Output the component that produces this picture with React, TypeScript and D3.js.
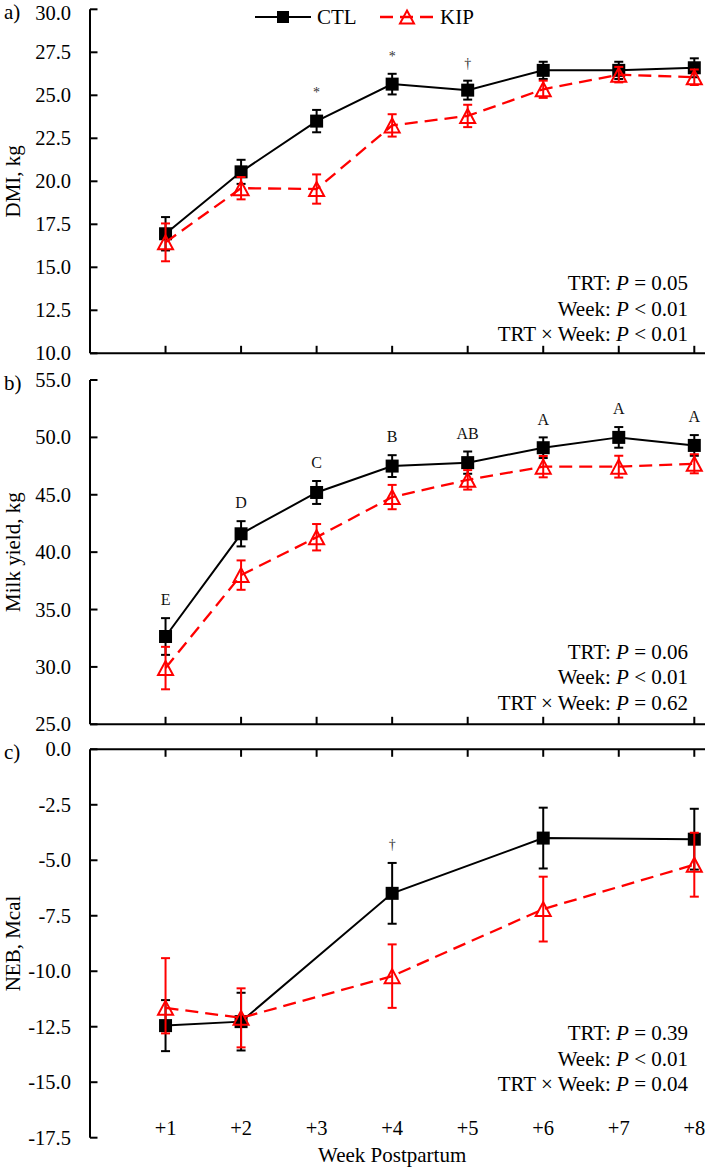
import React, { useEffect, useRef } from 'react';
import * as d3 from 'd3';

// Weeks postpartum
const weeks = [1, 2, 3, 4, 5, 6, 7, 8];
const weekLabels = ['+1', '+2', '+3', '+4', '+5', '+6', '+7', '+8'];
const nebWeeks = [1, 2, 4, 6, 8];

// a) DMI, kg
const dmiCtl = [16.95, 20.55, 23.5, 25.65, 25.3, 26.45, 26.45, 26.6];
const dmiCtlSe = [0.97, 0.7, 0.65, 0.6, 0.55, 0.5, 0.5, 0.55];
const dmiKip = [16.45, 19.6, 19.55, 23.25, 23.8, 25.35, 26.2, 26.05];
const dmiKipSe = [1.1, 0.65, 0.85, 0.65, 0.65, 0.5, 0.45, 0.45];
const dmiMarks = ['', '', '*', '*', '†', '', '', ''];
const dmiStats = ['TRT: |P| = 0.05', 'Week: |P| < 0.01', 'TRT × Week: |P| < 0.01'];

// b) Milk yield, kg
const milkCtl = [32.65, 41.6, 45.2, 47.5, 47.8, 49.1, 50.0, 49.3];
const milkCtlSe = [1.6, 1.1, 1.0, 0.95, 0.97, 0.9, 0.9, 0.9];
const milkKip = [29.9, 38.0, 41.3, 44.8, 46.3, 47.45, 47.45, 47.7];
const milkKipSe = [1.85, 1.28, 1.15, 1.06, 0.85, 0.93, 0.95, 0.83];
const milkLetters = ['E', 'D', 'C', 'B', 'AB', 'A', 'A', 'A'];
const milkStats = ['TRT: |P| = 0.06', 'Week: |P| < 0.01', 'TRT × Week: |P| = 0.62'];

// c) NEB, Mcal
const nebCtl = [-12.45, -12.27, -6.49, -4.0, -4.05];
const nebCtlSe = [1.15, 1.3, 1.37, 1.37, 1.37];
const nebKip = [-11.65, -12.1, -10.22, -7.2, -5.2];
const nebKipSe = [2.24, 1.33, 1.43, 1.46, 1.44];
const nebKipSeLow = [1.15, 1.33, 1.43, 1.46, 1.44];
const nebMarks = ['', '', '†', '', ''];
const nebStats = ['TRT: |P| = 0.39', 'Week: |P| < 0.01', 'TRT × Week: |P| = 0.04'];

const FONT = '"Liberation Serif", "Times New Roman", serif';
const RED = '#ff0000';

const App: React.FC = () => {
  const ref = useRef<SVGSVGElement | null>(null);

  useEffect(() => {
    if (!ref.current) return;
    const svg = d3.select(ref.current);
    svg.selectAll('*').remove();

    const x = d3.scaleLinear().domain([0, 8]).range([90, 694.3]);

    const panels = [
      {
        tag: 'a)', title: 'DMI, kg', domain: [10, 30], range: [353.3, 9.3], step: 2.5,
        axisAt: 10, tickDir: -1, statsY: 283,
        ctl: { xs: weeks, m: dmiCtl, up: dmiCtlSe, lo: dmiCtlSe },
        kip: { xs: weeks, m: dmiKip, up: dmiKipSe, lo: dmiKipSe },
        marks: { xs: weeks, t: dmiMarks, size: 14, off: 13, fill: '#333' },
        stats: dmiStats,
      },
      {
        tag: 'b)', title: 'Milk yield, kg', domain: [25, 55], range: [724.3, 380], step: 5,
        axisAt: 25, tickDir: -1, statsY: 651.5,
        ctl: { xs: weeks, m: milkCtl, up: milkCtlSe, lo: milkCtlSe },
        kip: { xs: weeks, m: milkKip, up: milkKipSe, lo: milkKipSe },
        marks: { xs: weeks, t: milkLetters, size: 16, off: 12.7, fill: '#111' },
        stats: milkStats,
      },
      {
        tag: 'c)', title: 'NEB, Mcal', domain: [-17.5, 0], range: [1137.7, 749.3], step: 2.5,
        axisAt: 0, tickDir: 1, statsY: 1033.3,
        ctl: { xs: nebWeeks, m: nebCtl, up: nebCtlSe, lo: nebCtlSe },
        kip: { xs: nebWeeks, m: nebKip, up: nebKipSe, lo: nebKipSeLow },
        marks: { xs: nebWeeks, t: nebMarks, size: 14, off: 14, fill: '#333' },
        stats: nebStats,
      },
    ];

    const g = svg.append('g').style('font-family', FONT).attr('fill', '#000');

    panels.forEach((p) => {
      const y = d3.scaleLinear().domain(p.domain).range(p.range);
      const [lo, hi] = p.domain;

      // y axis
      g.append('line')
        .attr('x1', 90).attr('x2', 90)
        .attr('y1', y(lo)).attr('y2', y(hi))
        .attr('stroke', '#000').attr('stroke-width', 2);

      const yTicks = d3.range(lo, hi + 0.001, p.step);
      yTicks.forEach((v) => {
        g.append('line')
          .attr('x1', 90).attr('x2', 97.5)
          .attr('y1', y(v)).attr('y2', y(v))
          .attr('stroke', '#000').attr('stroke-width', 2);
        g.append('text')
          .attr('x', 71)
          .attr('y', Math.max(y(v), 13) + 7)
          .attr('text-anchor', 'end')
          .style('font-size', '20.5px')
          .text(v.toFixed(1));
      });

      // x axis
      const ax = y(p.axisAt);
      g.append('line')
        .attr('x1', 90).attr('x2', 705)
        .attr('y1', ax).attr('y2', ax)
        .attr('stroke', '#000').attr('stroke-width', 2);
      weeks.forEach((w) => {
        g.append('line')
          .attr('x1', x(w)).attr('x2', x(w))
          .attr('y1', ax).attr('y2', ax + p.tickDir * 7.5)
          .attr('stroke', '#000').attr('stroke-width', 2);
      });

      // panel tag & title
      g.append('text')
        .attr('x', 4).attr('y', p.range[1] + 10)
        .style('font-size', '21px')
        .text(p.tag);
      const mid = (p.range[0] + p.range[1]) / 2;
      g.append('text')
        .attr('transform', `translate(20,${mid}) rotate(-90)`)
        .attr('text-anchor', 'middle')
        .style('font-size', '21px')
        .text(p.title);

      // series
      const drawSeries = (s: any, kind: 'ctl' | 'kip') => {
        const pts = s.xs.map((w: number, i: number) => ({ w, m: s.m[i], up: s.up[i], lo: s.lo[i] }));
        const line = d3.line<any>().x((d) => x(d.w)).y((d) => y(d.m));
        const col = kind === 'ctl' ? '#000' : RED;
        g.append('path')
          .attr('d', line(pts) as string)
          .attr('fill', 'none')
          .attr('stroke', col)
          .attr('stroke-width', kind === 'ctl' ? 2 : 2.3)
          .attr('stroke-dasharray', kind === 'ctl' ? null : '13,7');
        pts.forEach((d: any) => {
          const cx = x(d.w);
          const t = y(d.m + d.up);
          const b = y(d.m - d.lo);
          g.append('line').attr('x1', cx).attr('x2', cx).attr('y1', t).attr('y2', b)
            .attr('stroke', col).attr('stroke-width', 2);
          [t, b].forEach((yy) => {
            g.append('line').attr('x1', cx - 4.5).attr('x2', cx + 4.5).attr('y1', yy).attr('y2', yy)
              .attr('stroke', col).attr('stroke-width', 2);
          });
        });
        pts.forEach((d: any) => {
          const cx = x(d.w);
          const cy = y(d.m);
          if (kind === 'ctl') {
            g.append('rect').attr('x', cx - 6.5).attr('y', cy - 6.5)
              .attr('width', 13).attr('height', 13).attr('fill', '#000');
          } else {
            g.append('path')
              .attr('d', `M${cx},${cy - 7}L${cx + 7.5},${cy + 7}L${cx - 7.5},${cy + 7}Z`)
              .attr('fill', 'none').attr('stroke', RED).attr('stroke-width', 2);
          }
        });
        return pts;
      };
      const ctlPts = drawSeries(p.ctl, 'ctl');
      drawSeries(p.kip, 'kip');

      // significance marks / letters above CTL error bars
      p.marks.t.forEach((t: string, i: number) => {
        if (!t) return;
        const d = ctlPts[i];
        g.append('text')
          .attr('x', x(d.w)).attr('y', y(d.m + d.up) - p.marks.off)
          .attr('text-anchor', 'middle')
          .attr('fill', p.marks.fill)
          .style('font-size', `${p.marks.size}px`)
          .text(t);
      });

      // statistics
      p.stats.forEach((s: string, i: number) => {
        const parts = s.split('|');
        const txt = g.append('text')
          .attr('x', 688).attr('y', p.statsY + i * 25.5 + 7)
          .attr('text-anchor', 'end')
          .style('font-size', '21px');
        parts.forEach((part, j) => {
          const ts = txt.append('tspan').text(part);
          if (j === 1) ts.style('font-style', 'italic');
        });
      });
    });

    // bottom x labels for panel c
    const yc = d3.scaleLinear().domain([-17.5, 0]).range([1137.7, 749.3]);
    weeks.forEach((w, i) => {
      g.append('text')
        .attr('x', x(w)).attr('y', yc(-17.5) - 2.5)
        .attr('text-anchor', 'middle')
        .style('font-size', '20.5px')
        .text(weekLabels[i]);
    });
    g.append('text')
      .attr('x', (x(0) + x(8)) / 2).attr('y', 1162)
      .attr('text-anchor', 'middle')
      .style('font-size', '21px')
      .text('Week Postpartum');

    // legend
    const ly = 17;
    g.append('line').attr('x1', 255).attr('x2', 311).attr('y1', ly).attr('y2', ly)
      .attr('stroke', '#000').attr('stroke-width', 2);
    g.append('rect').attr('x', 283 - 6).attr('y', ly - 6).attr('width', 12).attr('height', 12).attr('fill', '#000');
    g.append('text').attr('x', 317).attr('y', ly + 7).style('font-size', '21px').text('CTL');
    g.append('line').attr('x1', 380).attr('x2', 433).attr('y1', ly).attr('y2', ly)
      .attr('stroke', RED).attr('stroke-width', 2.3).attr('stroke-dasharray', '13,7');
    g.append('path')
      .attr('d', `M407,${ly - 6.5}L414,${ly + 6.5}L400,${ly + 6.5}Z`)
      .attr('fill', 'none').attr('stroke', RED).attr('stroke-width', 2);
    g.append('text').attr('x', 440).attr('y', ly + 7).style('font-size', '21px').text('KIP');
  }, []);

  return (
    <div style={{ position: 'absolute', left: 0, top: 0, width: 708, height: 1168, background: '#fff' }}>
      <svg ref={ref} width={708} height={1168}></svg>
    </div>
  );
};

export default App;
